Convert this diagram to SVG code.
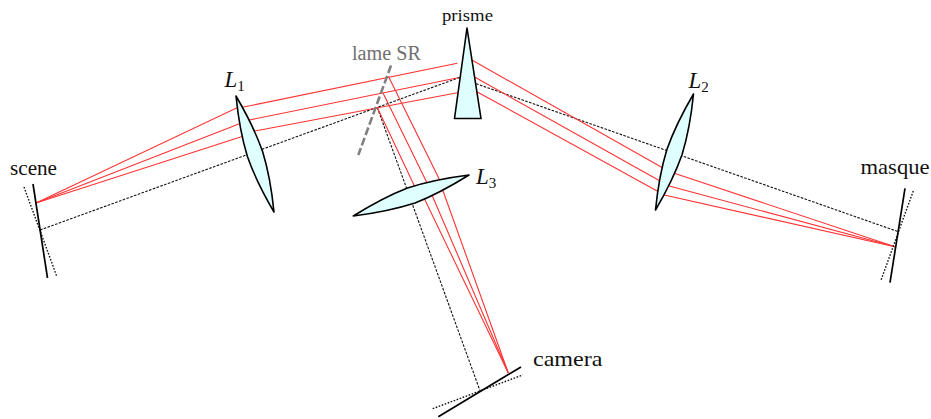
<svg xmlns="http://www.w3.org/2000/svg" width="931" height="419" viewBox="0 0 931 419">
<style>
text{font-family:"Liberation Serif","Times New Roman",serif;fill:#111}
.i{font-size:23px;font-style:italic}
.sub{font-size:15px;font-style:normal}
.ray{fill:none;stroke:#ff3333;stroke-width:1.1}
.axis{fill:none;stroke:#111;stroke-width:1.1;stroke-dasharray:2.6 1.4}
.glass{fill:#dfffff;stroke:#000;stroke-width:1.6;stroke-linejoin:round}
.plane{fill:none;stroke:#000;stroke-width:1.7}
.tilt{fill:none;stroke:#111;stroke-width:1.4;stroke-dasharray:1.6 1.6}
</style>
<g id="connectors">
<path class="axis" d="M40 230L459 77.7L898.3 231.7"/>
<path class="axis" d="M377.3 107.5L480 390.7"/>
<path class="ray" d="M36 203L237 107.8L242 107.3L457.3 63.3"/>
<path class="ray" d="M36 203L240.7 123.3L249.3 120L458 77.7"/>
<path class="ray" d="M36 203L241.3 136.7L255 131L457.3 92.7"/>
<path class="ray" d="M472.3 60.3L661.7 167.3L674.3 173.3L895 246.7"/>
<path class="ray" d="M475 77.3L658.3 180L669.3 186L895 246.7"/>
<path class="ray" d="M477.3 92L656.7 190.7L664.3 195L895 246.7"/>
<path class="ray" d="M388.5 76.5L439.3 179.3L442.7 190L508.3 373"/>
<path class="ray" d="M383 93L426.7 182.3L432.3 195.7L508.3 373"/>
<path class="ray" d="M377.3 107.5L414.3 185.7L425 200L508.3 373"/>
</g>
<g id="scene">
<path class="tilt" d="M24 187L57 277"/>
<path class="plane" d="M33 184L47.5 278"/>
<text x="10" y="175" font-size="20" textLength="47" lengthAdjust="spacingAndGlyphs">scene</text>
</g>
<g id="L1">
<path class="glass" d="M236 96Q253.7 126.2 262.6 151.5Q270.5 177.2 274 212Q256.3 181.8 247.4 156.5Q239.5 130.8 236 96Z"/>
<text class="i" x="224.5" y="87">L<tspan class="sub" dy="4">1</tspan></text>
</g>
<g id="lame">
<path d="M391 65.5L358.3 155" fill="none" stroke="#808080" stroke-width="2.6" stroke-dasharray="8 3"/>
<text x="352" y="60" font-size="20" textLength="69" lengthAdjust="spacingAndGlyphs" style="fill:#707070">lame SR</text>
</g>
<g id="prisme">
<path class="glass" d="M467 28L481 118.5L454.5 118.5Z"/>
<text x="442" y="21" font-size="17" textLength="51" lengthAdjust="spacingAndGlyphs">prisme</text>
</g>
<g id="L3">
<path class="glass" d="M353.3 216Q383.2 197.4 407.5 188Q434.1 179.4 469 175Q439.1 193.6 415 203Q388.2 211.6 353.3 216Z"/>
<text class="i" x="476" y="184">L<tspan class="sub" dy="4">3</tspan></text>
</g>
<g id="L2">
<path class="glass" d="M693.5 94Q690 128.8 682.1 154.5Q673.2 179.8 655.5 210Q659 175.2 666.9 149.5Q675.8 124.2 693.5 94Z"/>
<text class="i" x="688.5" y="87.5">L<tspan class="sub" dy="4">2</tspan></text>
</g>
<g id="masque">
<path class="tilt" d="M913.3 191L880.7 281"/>
<path class="plane" d="M905 188.3L890 282.7"/>
<text x="860.5" y="174" font-size="21" textLength="69" lengthAdjust="spacingAndGlyphs">masque</text>
</g>
<g id="camera">
<path class="tilt" d="M432.7 408.7L522.7 375"/>
<path class="plane" d="M438.3 416.7L521 367"/>
<text x="533" y="366" font-size="22" textLength="69.5" lengthAdjust="spacingAndGlyphs">camera</text>
</g>
</svg>
